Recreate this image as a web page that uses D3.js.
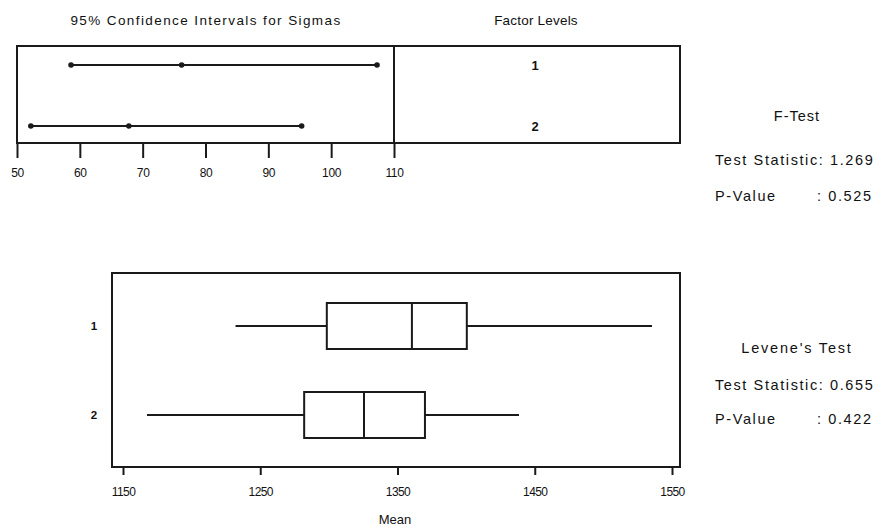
<!DOCTYPE html>
<html>
<head>
<meta charset="utf-8">
<script src="https://cdn.jsdelivr.net/npm/d3@7.9.0/dist/d3.min.js"></script>
<style>
  html, body { margin: 0; padding: 0; background: #fff; }
  svg { display: block; }
  text { font-family: "Liberation Sans", Arial, sans-serif; fill: #111; }
</style>
</head>
<body>
<svg id="chart" width="881" height="528"></svg>
<script>
// factor levels
const levels = ['1', '2'];

// 95% confidence intervals for sigmas
const sigmaLower = [58.6, 52.2];
const sigmaEst = [76.2, 67.8];
const sigmaUpper = [107.3, 95.3];
const sigmaTicks = [50, 60, 70, 80, 90, 100, 110];

// boxplot of the data per level
const whiskerLo = [1232, 1167.5];
const q1 = [1298.5, 1282];
const median = [1360.5, 1325.6];
const q3 = [1400.5, 1370];
const whiskerHi = [1535.4, 1438.5];
const meanTicks = [1150, 1250, 1350, 1450, 1550];

// test results
const fTest = { stat: '1.269', p: '0.525' };
const leveneTest = { stat: '0.655', p: '0.422' };

const svg = d3.select('#chart');
const ink = '#1a1a1a';

// ---------- top panel: sigma intervals ----------
const ciPanel = { left: 17, right: 680, divider: 394, top: 46, bottom: 143 };

const xSig = d3.scaleLinear().domain([50, 110]).range([ciPanel.left, ciPanel.divider]);
const ySig = d3.scalePoint().domain(levels).range([65, 126]);

svg.append('text')
  .attr('x', 206).attr('y', 25)
  .attr('text-anchor', 'middle')
  .style('font-size', '13.5px')
  .style('letter-spacing', '1.4px')
  .text('95% Confidence Intervals for Sigmas');

svg.append('text')
  .attr('x', 536).attr('y', 25)
  .attr('text-anchor', 'middle')
  .style('font-size', '13.5px')
  .style('letter-spacing', '0.2px')
  .text('Factor Levels');

svg.append('rect')
  .attr('x', ciPanel.left).attr('y', ciPanel.top)
  .attr('width', ciPanel.right - ciPanel.left).attr('height', ciPanel.bottom - ciPanel.top)
  .attr('fill', 'none').attr('stroke', ink).attr('stroke-width', 2);

const sigAxis = svg.append('g')
  .attr('transform', `translate(0, ${ciPanel.bottom})`)
  .call(d3.axisBottom(xSig).tickValues(sigmaTicks).tickSize(15).tickSizeOuter(0).tickPadding(10));
sigAxis.select('.domain').remove();
sigAxis.selectAll('line').attr('stroke', ink).attr('stroke-width', 2);
sigAxis.selectAll('text')
  .style('font-size', '12px')
  .style('letter-spacing', '-0.3px')
  .style('font-family', '"Liberation Sans", Arial, sans-serif')
  .attr('fill', ink);

// divider between scale and level labels
svg.append('line')
  .attr('x1', ciPanel.divider).attr('x2', ciPanel.divider)
  .attr('y1', ciPanel.top).attr('y2', ciPanel.bottom)
  .attr('stroke', ink).attr('stroke-width', 2);

const ci = svg.append('g');
levels.forEach((lv, i) => {
  const y = ySig(lv);
  ci.append('line')
    .attr('x1', xSig(sigmaLower[i])).attr('x2', xSig(sigmaUpper[i]))
    .attr('y1', y).attr('y2', y)
    .attr('stroke', ink).attr('stroke-width', 2);
  ci.selectAll(null)
    .data([sigmaLower[i], sigmaEst[i], sigmaUpper[i]])
    .join('circle')
    .attr('cx', (d) => xSig(d)).attr('cy', y).attr('r', 2.8)
    .attr('fill', ink);
  svg.append('text')
    .attr('x', 535).attr('y', y + 5)
    .attr('text-anchor', 'middle')
    .style('font-size', '13px')
    .style('font-weight', 'bold')
    .text(lv);
});

// ---------- bottom panel: boxplots ----------
const boxPanel = { left: 112, right: 680, top: 273, bottom: 467 };

const xMean = d3.scaleLinear().domain([1150, 1550]).range([123, 672]);
const yBox = d3.scalePoint().domain(levels).range([326, 415]);
const boxH = 46;

svg.append('rect')
  .attr('x', boxPanel.left).attr('y', boxPanel.top)
  .attr('width', boxPanel.right - boxPanel.left).attr('height', boxPanel.bottom - boxPanel.top)
  .attr('fill', 'none').attr('stroke', ink).attr('stroke-width', 2);

const meanAxis = svg.append('g')
  .attr('transform', `translate(0, ${boxPanel.bottom})`)
  .call(d3.axisBottom(xMean).tickValues(meanTicks).tickFormat(d3.format('d'))
    .tickSize(8).tickSizeOuter(0).tickPadding(12));
meanAxis.select('.domain').remove();
meanAxis.selectAll('line').attr('stroke', ink).attr('stroke-width', 2);
meanAxis.selectAll('text')
  .style('font-size', '12px')
  .style('letter-spacing', '-0.6px')
  .style('font-family', '"Liberation Sans", Arial, sans-serif')
  .attr('fill', ink);

svg.append('text')
  .attr('x', 395).attr('y', 524)
  .attr('text-anchor', 'middle')
  .style('font-size', '13px')
  .text('Mean');

const boxes = svg.append('g');
levels.forEach((lv, i) => {
  const y = yBox(lv);
  const g = boxes.append('g');
  g.append('line')
    .attr('x1', xMean(whiskerLo[i])).attr('x2', xMean(q1[i]))
    .attr('y1', y).attr('y2', y)
    .attr('stroke', ink).attr('stroke-width', 2);
  g.append('line')
    .attr('x1', xMean(q3[i])).attr('x2', xMean(whiskerHi[i]))
    .attr('y1', y).attr('y2', y)
    .attr('stroke', ink).attr('stroke-width', 2);
  g.append('rect')
    .attr('x', xMean(q1[i])).attr('y', y - boxH / 2)
    .attr('width', xMean(q3[i]) - xMean(q1[i])).attr('height', boxH)
    .attr('fill', 'none').attr('stroke', ink).attr('stroke-width', 2);
  g.append('line')
    .attr('x1', xMean(median[i])).attr('x2', xMean(median[i]))
    .attr('y1', y - boxH / 2).attr('y2', y + boxH / 2)
    .attr('stroke', ink).attr('stroke-width', 2);
  svg.append('text')
    .attr('x', 94).attr('y', y + 4)
    .attr('text-anchor', 'middle')
    .style('font-size', '11.5px')
    .style('font-weight', 'bold')
    .text(lv);
});

// ---------- test results ----------
function testBlock(title, spacing, res, yTitle, yStat, yP) {
  svg.append('text')
    .attr('x', 797).attr('y', yTitle)
    .attr('text-anchor', 'middle')
    .style('font-size', '14.5px')
    .style('letter-spacing', spacing)
    .text(title);
  svg.append('text')
    .attr('x', 715).attr('y', yStat)
    .style('font-size', '14.5px')
    .style('letter-spacing', '1.6px')
    .text('Test Statistic: ' + res.stat);
  svg.append('text')
    .attr('x', 715).attr('y', yP)
    .style('font-size', '14.5px')
    .style('letter-spacing', '1.6px')
    .text('P-Value');
  svg.append('text')
    .attr('x', 817).attr('y', yP)
    .style('font-size', '14.5px')
    .style('letter-spacing', '1.6px')
    .text(': ' + res.p);
}

testBlock('F-Test', '1px', fTest, 121, 165, 201);
testBlock("Levene's Test", '1.8px', leveneTest, 353, 390, 424);
</script>
</body>
</html>
